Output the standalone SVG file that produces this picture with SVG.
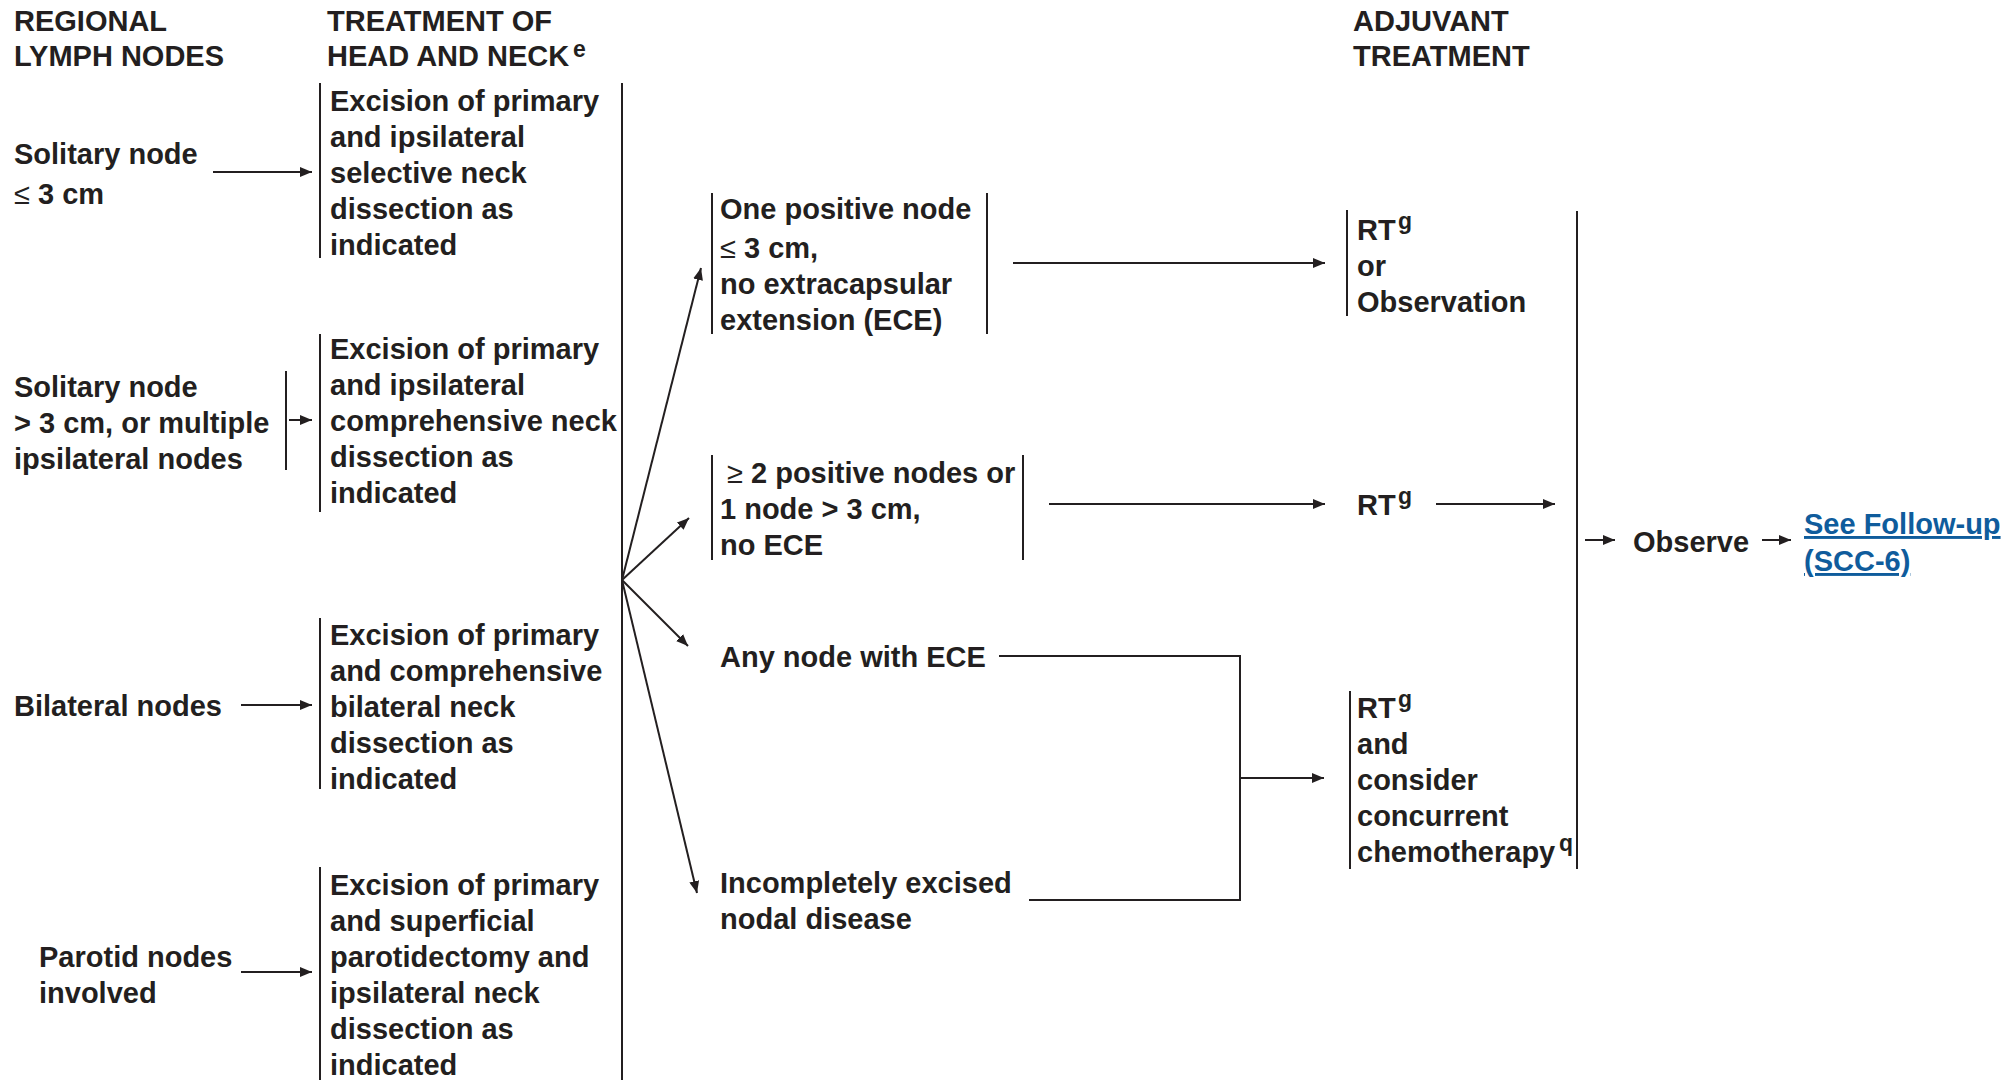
<svg xmlns="http://www.w3.org/2000/svg" width="2016" height="1080" viewBox="0 0 2016 1080">
<style>
.t{font-family:"Liberation Sans",Arial,Helvetica,sans-serif;font-weight:bold;font-size:29px;fill:#231f20}
.sup{font-size:23px}
.sym{font-weight:normal}
.lk{fill:#0f5c9c;text-decoration:underline}
.bar{stroke:#231f20;stroke-width:2;fill:none}
.ln{stroke:#231f20;stroke-width:2;fill:none}
.ar{stroke:#231f20;stroke-width:2;fill:none;marker-end:url(#ah)}
</style>
<defs>
<marker id="ah" markerUnits="userSpaceOnUse" markerWidth="13" markerHeight="10" refX="12" refY="5" orient="auto">
<path d="M0,0 L12,5 L0,10 z" fill="#231f20"/>
</marker>
</defs>
<rect width="2016" height="1080" fill="#ffffff"/>

<g id="headers" class="t">
<text x="14" y="31">REGIONAL</text>
<text x="14" y="66">LYMPH NODES</text>
<text x="327" y="31">TREATMENT OF</text>
<text x="327" y="66">HEAD AND NECK</text>
<text x="573" y="57" class="sup">e</text>
<text x="1353" y="31">ADJUVANT</text>
<text x="1353" y="66">TREATMENT</text>
</g>

<g id="connectors">
<line class="ar" x1="213" y1="172" x2="312" y2="172"/>
<line class="ar" x1="289" y1="420" x2="312" y2="420"/>
<line class="ar" x1="241" y1="705" x2="312" y2="705"/>
<line class="ar" x1="241" y1="972" x2="312" y2="972"/>
<line class="ar" x1="622" y1="580" x2="701" y2="268"/>
<line class="ar" x1="622" y1="580" x2="689" y2="518"/>
<line class="ar" x1="622" y1="580" x2="688" y2="646"/>
<line class="ar" x1="622" y1="580" x2="697" y2="893"/>
<line class="ar" x1="1013" y1="263" x2="1325" y2="263"/>
<line class="ar" x1="1049" y1="504" x2="1325" y2="504"/>
<line class="ar" x1="1436" y1="504" x2="1555" y2="504"/>
<polyline class="ln" points="999,656 1240,656 1240,900 1029,900"/>
<line class="ar" x1="1240" y1="778" x2="1324" y2="778"/>
<line class="ar" x1="1585" y1="540" x2="1615" y2="540"/>
<line class="ar" x1="1762" y1="540" x2="1791" y2="540"/>
</g>

<g id="lbl-solitary-small" class="t">
<text x="14" y="164">Solitary node</text>
<text x="14" y="204"><tspan class="sym">≤</tspan> 3 cm</text>
</g>

<g id="lbl-solitary-large">
<text class="t" x="14" y="397">Solitary node</text>
<text class="t" x="14" y="433">&gt; 3 cm, or multiple</text>
<text class="t" x="14" y="469">ipsilateral nodes</text>
<line class="bar" x1="286" y1="371" x2="286" y2="470"/>
</g>

<g id="lbl-bilateral" class="t">
<text x="14" y="716">Bilateral nodes</text>
</g>

<g id="lbl-parotid" class="t">
<text x="39" y="967">Parotid nodes</text>
<text x="39" y="1003">involved</text>
</g>

<g id="tx-selective">
<line class="bar" x1="320" y1="83" x2="320" y2="258"/>
<text class="t" x="330" y="111">Excision of primary</text>
<text class="t" x="330" y="147">and ipsilateral</text>
<text class="t" x="330" y="183">selective neck</text>
<text class="t" x="330" y="219">dissection as</text>
<text class="t" x="330" y="255">indicated</text>
</g>

<g id="tx-comprehensive">
<line class="bar" x1="320" y1="334" x2="320" y2="512"/>
<text class="t" x="330" y="359">Excision of primary</text>
<text class="t" x="330" y="395">and ipsilateral</text>
<text class="t" x="330" y="431">comprehensive neck</text>
<text class="t" x="330" y="467">dissection as</text>
<text class="t" x="330" y="503">indicated</text>
</g>

<g id="tx-bilateral">
<line class="bar" x1="320" y1="618" x2="320" y2="789"/>
<text class="t" x="330" y="645">Excision of primary</text>
<text class="t" x="330" y="681">and comprehensive</text>
<text class="t" x="330" y="717">bilateral neck</text>
<text class="t" x="330" y="753">dissection as</text>
<text class="t" x="330" y="789">indicated</text>
</g>

<g id="tx-parotid">
<line class="bar" x1="320" y1="867" x2="320" y2="1080"/>
<text class="t" x="330" y="895">Excision of primary</text>
<text class="t" x="330" y="931">and superficial</text>
<text class="t" x="330" y="967">parotidectomy and</text>
<text class="t" x="330" y="1003">ipsilateral neck</text>
<text class="t" x="330" y="1039">dissection as</text>
<text class="t" x="330" y="1075">indicated</text>
</g>

<g id="treatment-bracket">
<line class="bar" x1="622" y1="83" x2="622" y2="1080"/>
</g>

<g id="path-one-node">
<line class="bar" x1="712" y1="193" x2="712" y2="334"/>
<line class="bar" x1="987" y1="193" x2="987" y2="334"/>
<text class="t" x="720" y="219">One positive node</text>
<text class="t" x="720" y="258"><tspan class="sym">≤</tspan> 3 cm,</text>
<text class="t" x="720" y="294">no extracapsular</text>
<text class="t" x="720" y="330">extension (ECE)</text>
</g>

<g id="path-multi-node">
<line class="bar" x1="712" y1="455" x2="712" y2="560"/>
<line class="bar" x1="1023" y1="455" x2="1023" y2="560"/>
<text class="t" x="727" y="483"><tspan class="sym">≥</tspan> 2 positive nodes or</text>
<text class="t" x="720" y="519">1 node &gt; 3 cm,</text>
<text class="t" x="720" y="555">no ECE</text>
</g>

<g id="path-ece" class="t">
<text x="720" y="667">Any node with ECE</text>
</g>

<g id="path-incomplete" class="t">
<text x="720" y="893">Incompletely excised</text>
<text x="720" y="929">nodal disease</text>
</g>

<g id="adj-rt-or-obs">
<line class="bar" x1="1347" y1="210" x2="1347" y2="316"/>
<text class="t" x="1357" y="240">RT</text>
<text class="t sup" x="1398" y="229">g</text>
<text class="t" x="1357" y="276">or</text>
<text class="t" x="1357" y="312">Observation</text>
</g>

<g id="adj-rt">
<text class="t" x="1357" y="515">RT</text>
<text class="t sup" x="1398" y="504">g</text>
</g>

<g id="adj-rt-chemo">
<line class="bar" x1="1350" y1="691" x2="1350" y2="869"/>
<text class="t" x="1357" y="718">RT</text>
<text class="t sup" x="1398" y="707">g</text>
<text class="t" x="1357" y="754">and</text>
<text class="t" x="1357" y="790">consider</text>
<text class="t" x="1357" y="826">concurrent</text>
<text class="t" x="1357" y="862">chemotherapy</text>
<text class="t sup" x="1559" y="851">q</text>
</g>

<g id="adjuvant-bracket">
<line class="bar" x1="1577" y1="211" x2="1577" y2="869"/>
</g>

<g id="observe" class="t">
<text x="1633" y="552">Observe</text>
</g>

<g id="follow-up" class="t lk">
<text x="1804" y="534">See Follow-up</text>
<text x="1804" y="571">(SCC-6)</text>
</g>
</svg>
